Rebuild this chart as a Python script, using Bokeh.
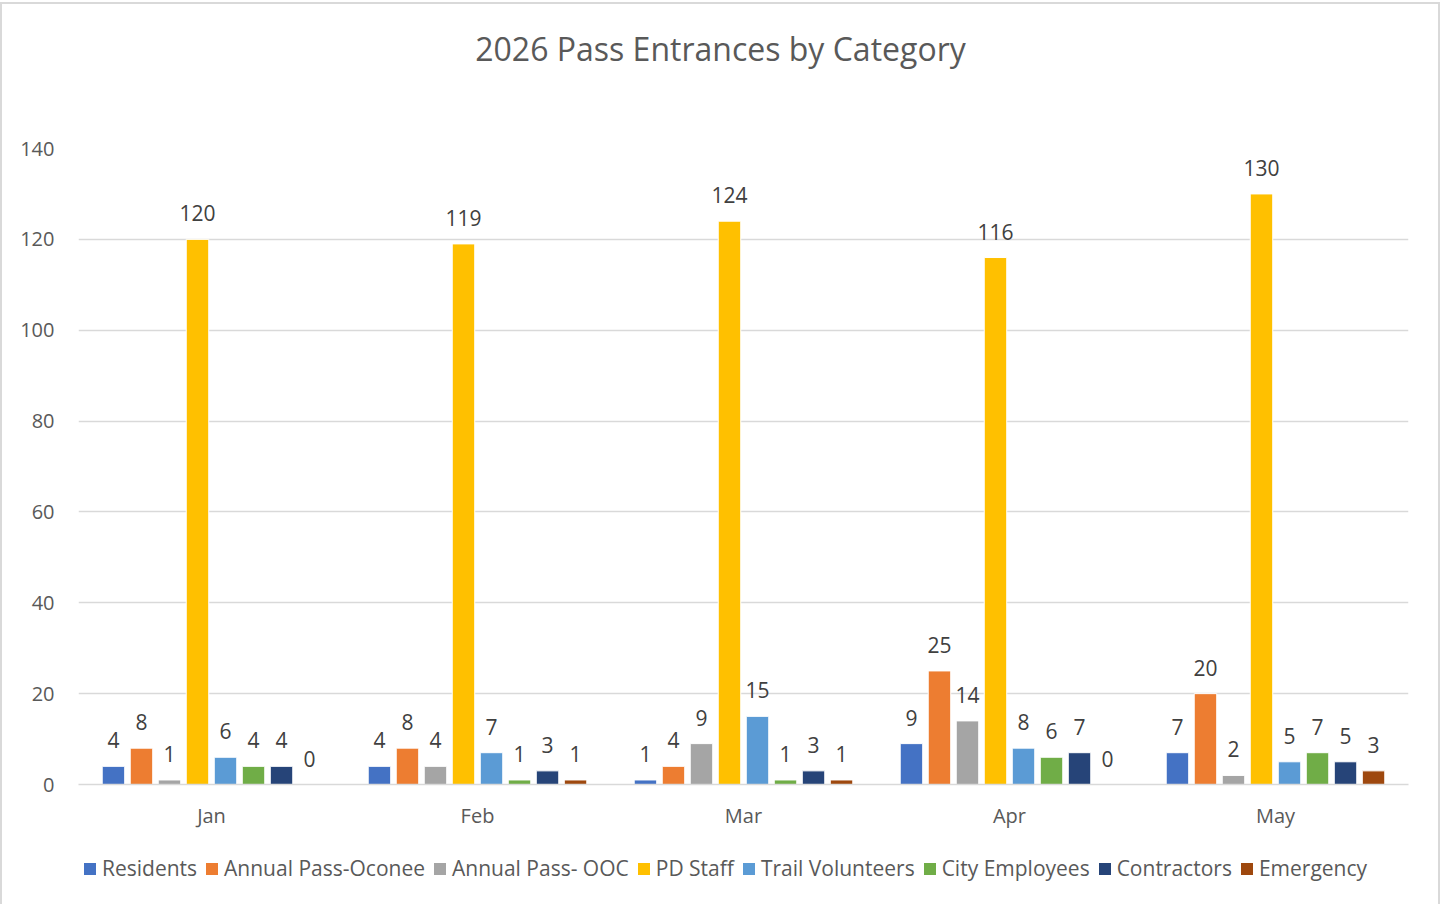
from bokeh.plotting import figure
from bokeh.layouts import column
from bokeh.models import ColumnDataSource, FactorRange, Legend, LegendItem, LabelSet, Label, FixedTicker, Range1d
from bokeh.transform import dodge
from bokeh.core.properties import value
from bokeh.embed import file_html
from bokeh.resources import INLINE

title_text = "2026 Pass Entrances by Category"
months = ["Jan", "Feb", "Mar", "Apr", "May"]
series_names = ["Residents", "Annual Pass-Oconee", "Annual Pass- OOC", "PD Staff",
                "Trail Volunteers", "City Employees", "Contractors", "Emergency"]
residents = [4, 4, 1, 9, 7]
annual_oconee = [8, 8, 4, 25, 20]
annual_ooc = [1, 4, 9, 14, 2]
pd_staff = [120, 119, 124, 116, 130]
trail_volunteers = [6, 7, 15, 8, 5]
city_employees = [4, 1, 1, 6, 7]
contractors = [4, 3, 3, 7, 5]
emergency = [0, 1, 1, 0, 3]
y_ticks = [0, 20, 40, 60, 80, 100, 120, 140]

series_values = [residents, annual_oconee, annual_ooc, pd_staff,
                 trail_volunteers, city_employees, contractors, emergency]
colors = ["#4472C4", "#ED7D31", "#A5A5A5", "#FFC000", "#5B9BD5", "#70AD47", "#264478", "#9E480E"]

FONT = "Open Sans"
W = 1436
FL, FR = 78, 1408   # frame left/right in page pixels

def strip(h):
    f = figure(x_range=Range1d(FL, FR), y_range=Range1d(0, h), width=W, height=h,
               output_backend="svg", toolbar_location=None,
               min_border_left=76, min_border_right=30, min_border_top=0, min_border_bottom=0)
    f.axis.visible = False
    f.grid.grid_line_color = None
    f.outline_line_color = None
    return f

# title strip
TH = 124
tstrip = strip(TH)
tstrip.add_layout(Label(x=720, y=TH - 44, text=title_text, text_align="center",
                        text_baseline="middle", text_font=FONT, text_font_size="32px",
                        text_color="#595959"))

# main chart
p = figure(x_range=FactorRange(*months, range_padding=0), y_range=Range1d(0, 140),
           width=W, height=712, output_backend="svg", toolbar_location=None,
           min_border_left=76, min_border_right=30, min_border_top=20, min_border_bottom=56)

pitch = 0.1053
bw = 0.0846
for i, (name, vals, col) in enumerate(zip(series_names, series_values, colors)):
    src = ColumnDataSource(dict(month=months, val=vals, lab=[str(v) for v in vals]))
    off = (i - 3.5) * pitch
    p.vbar(x=dodge("month", off, range=p.x_range), top="val", width=bw, source=src,
           fill_color=col, line_color="white", line_width=1)
    lbl = LabelSet(x=dodge("month", off, range=p.x_range), y="val", text="lab", source=src,
                   text_align="center", text_baseline="middle", y_offset=26,
                   text_font=value(FONT), text_font_size="21px", text_color="#404040")
    p.add_layout(lbl)

p.yaxis.ticker = FixedTicker(ticks=y_ticks)
p.yaxis.axis_line_color = None
p.yaxis.major_tick_line_color = None
p.yaxis.minor_tick_line_color = None
p.yaxis.major_label_standoff = 18
p.yaxis.major_label_text_font = FONT
p.yaxis.major_label_text_font_size = "20px"
p.yaxis.major_label_text_color = "#595959"

p.xaxis.axis_line_color = "#D9D9D9"
p.xaxis.axis_line_width = 1.5
p.xaxis.major_tick_line_color = None
p.xaxis.minor_tick_line_color = None
p.xaxis.major_label_standoff = 11
p.xaxis.major_label_text_font = FONT
p.xaxis.major_label_text_font_size = "20px"
p.xaxis.major_label_text_color = "#595959"

p.xgrid.grid_line_color = None
p.ygrid.grid_line_color = "#D9D9D9"
p.ygrid.grid_line_width = 1.5
p.outline_line_color = None

# legend strip below the chart
LH = 58
lg = strip(LH)
items = []
for name, col in zip(series_names, colors):
    src = ColumnDataSource(dict(x=[0], top=[-100], bottom=[-110]))
    r = lg.vbar(x="x", top="top", bottom="bottom", width=10, source=src,
                fill_color=col, line_color=None)
    items.append(LegendItem(label=name, renderers=[r]))
legend = Legend(items=items, orientation="horizontal", location=(4, 16),
                glyph_width=15, glyph_height=15, label_standoff=5, spacing=7,
                label_text_font=FONT, label_text_font_size="21px", label_text_color="#595959",
                border_line_color=None, background_fill_alpha=0, padding=0, margin=0)
lg.add_layout(legend, "center")

layout = column(tstrip, p, lg, spacing=0,
                styles={"border-left": "2px solid #D9D9D9", "border-right": "2px solid #D9D9D9",
                        "border-top": "2px solid #D9D9D9", "margin-top": "2px",
                        "padding-bottom": "6px"})
open("out.html", "w").write(file_html(layout, INLINE))
